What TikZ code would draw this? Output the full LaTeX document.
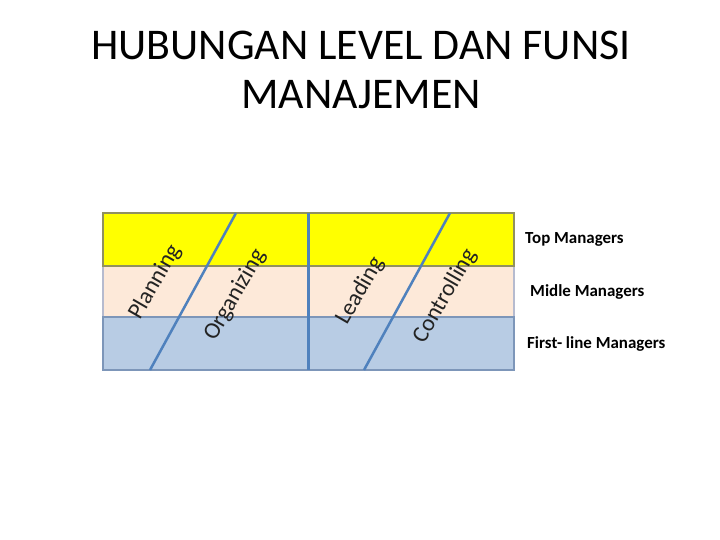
\documentclass[tikz,border=0pt]{standalone}
\usepackage{fontspec}
\setmainfont{Carlito}
\usetikzlibrary{positioning}

\definecolor{topfill}{RGB}{255,255,0}
\definecolor{midfill}{RGB}{253,233,217}
\definecolor{lowfill}{RGB}{184,204,228}
\definecolor{topline}{RGB}{145,145,95}
\definecolor{midline}{RGB}{182,187,207}
\definecolor{lowline}{RGB}{125,150,185}
\definecolor{fnblue}{RGB}{79,129,189}
\definecolor{fntext}{RGB}{35,35,35}

\tikzset{
  lvl/.style={line width=1.5bp,minimum width=411bp,inner sep=0pt,outer sep=0pt,anchor=north west},
  fnstroke/.style={fnblue,line width=2.5bp},
  fnlabel/.style={fntext,rotate=60,inner sep=0pt,font=\fontsize{23.5}{26}\selectfont},
  mgr/.style={inner sep=0pt,font=\fontsize{17}{19}\selectfont\bfseries}
}

\begin{document}
\begin{tikzpicture}[x=1bp,y=-1bp]
        \useasboundingbox (0,0) rectangle (720,540);
        \def\boxleft{103}

        % title
        \node[align=center,font=\fontsize{44}{50}\selectfont] (title) at (361,70) {HUBUNGAN LEVEL DAN FUNSI\\MANAJEMEN};

        % management levels
        \node[lvl,draw=midline,fill=midfill,minimum height=51bp] (mid) at (\boxleft,266) {};
        \node[lvl,draw=lowline,fill=lowfill,minimum height=53bp] (first) at (\boxleft,317) {};
        \node[lvl,draw=topline,fill=topfill,minimum height=53bp] (top) at (\boxleft,213) {};

        \node[mgr,anchor=west,right=11bp of top.east] (topmgr) {Top Managers};
        \node[mgr,anchor=west,right=16bp of mid.east] (midmgr) {Midle Managers};
        \node[mgr,anchor=west,right=13bp of first.east] (firstmgr) {First- line Managers};

        % functions
        \coordinate (a1) at (150,370);
        \coordinate (a2) at (236,213);
        \coordinate (b1) at (364,370);
        \coordinate (b2) at (450,213);
        \draw[fnstroke] (top.north) -- (first.south);
        \draw[fnstroke] (a1) -- (a2);
        \draw[fnstroke] (b1) -- (b2);

        \node[fnlabel] (plan) at (155,282) {Planning};
        \node[fnlabel] (org) at (235,295) {Organizing};
        \node[fnlabel] (lead) at (360,291) {Leading};
        \node[fnlabel] (ctrl) at (445,296) {Controlling};
      \end{tikzpicture}
\end{document}
